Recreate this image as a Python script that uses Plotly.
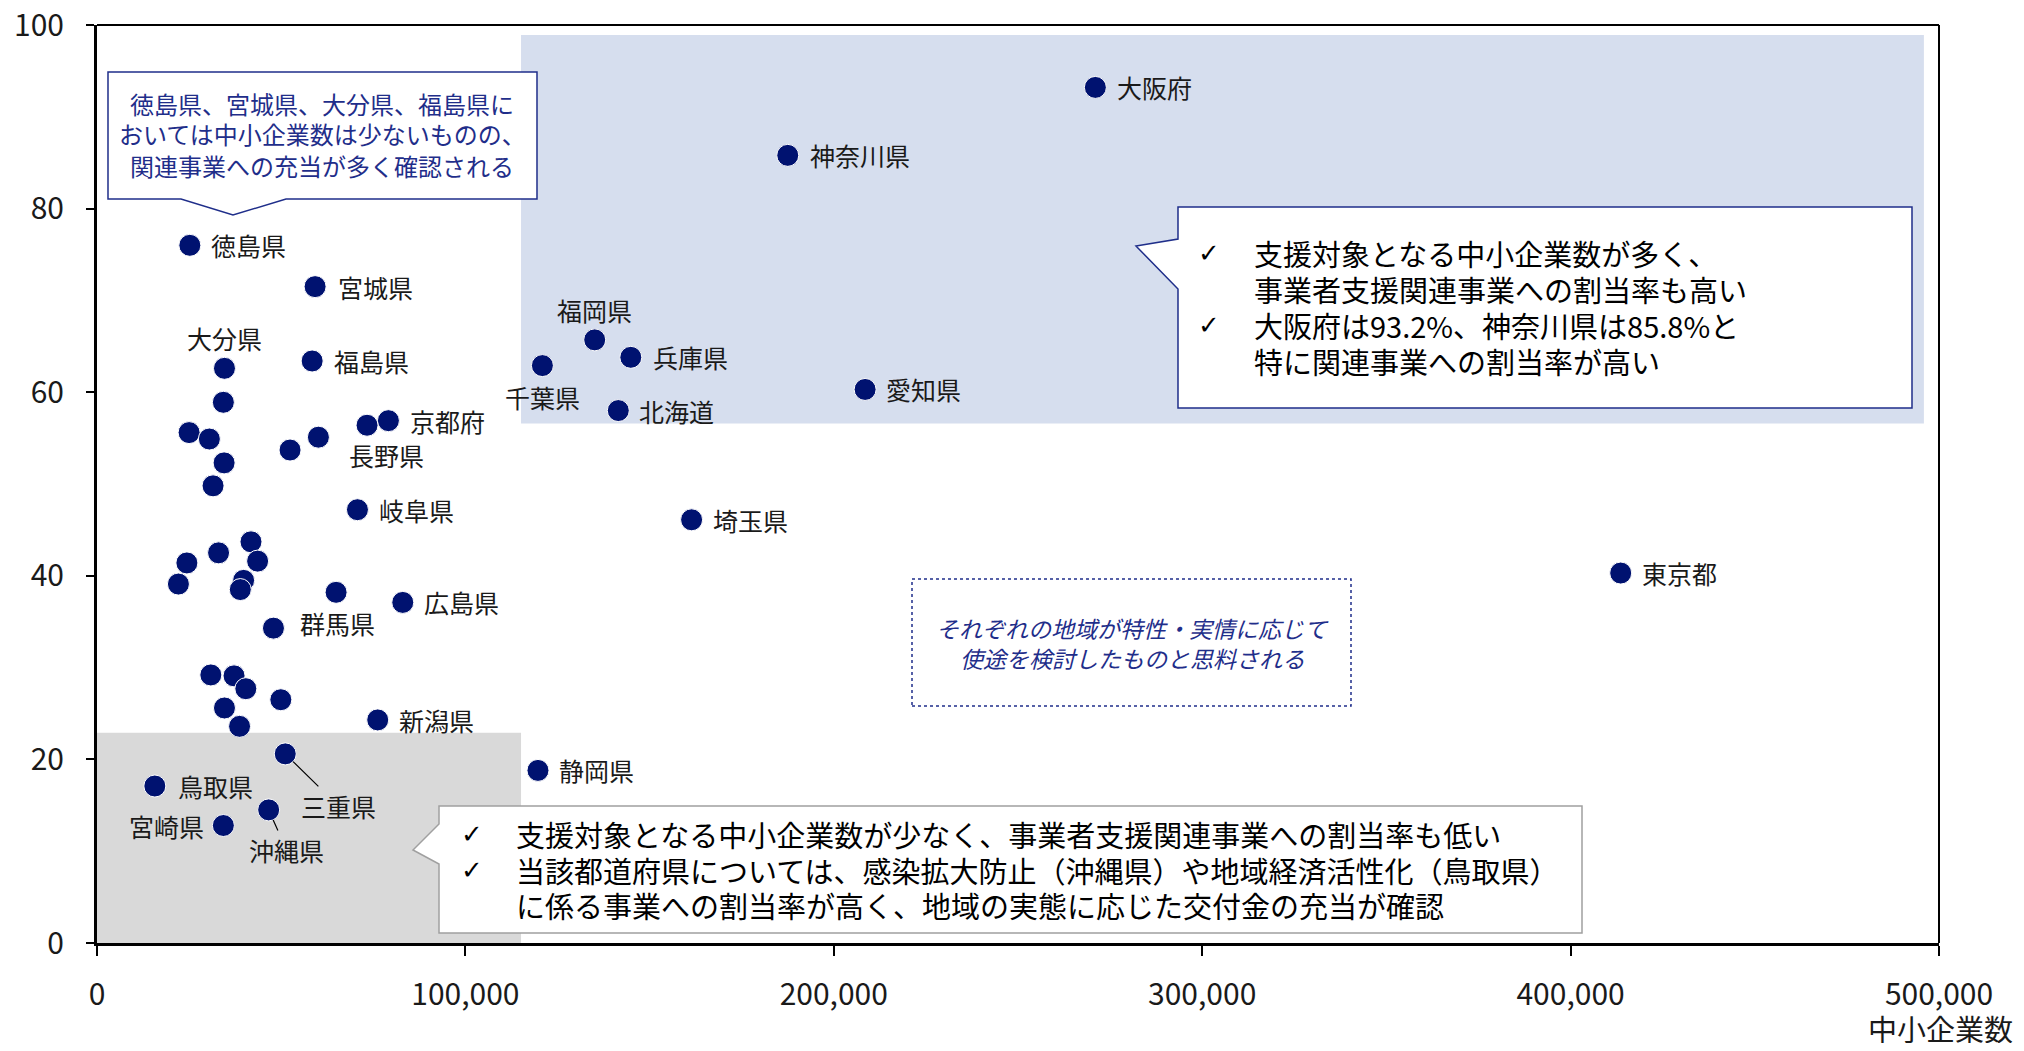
import plotly.graph_objects as go

# ---------------- data ----------------
prefectures = ["大阪府", "神奈川県", "福岡県", "兵庫県", "千葉県", "北海道", "愛知県",
               "徳島県", "宮城県", "大分県", "福島県", "京都府", "長野県",
               "", "", "", "", "", "", "",
               "岐阜県", "埼玉県", "東京都",
               "", "", "", "", "", "", "", "",
               "広島県", "群馬県",
               "", "", "", "", "", "",
               "新潟県", "三重県", "静岡県", "鳥取県", "沖縄県", "宮崎県"]
sme_counts = [271000, 187500, 135100, 144900, 120900, 141500, 208500,
              25200, 59200, 34600, 58400, 79100, 73300,
              60100, 52400, 34300, 25000, 30500, 34500, 31500,
              70700, 161400, 413600,
              41800, 33000, 24400, 43600, 22100, 39800, 38900, 64900,
              83000, 47900,
              30900, 37200, 40400, 49900, 34600, 38700,
              76200, 51100, 119700, 15700, 46600, 34300]
support_share = [93.2, 85.8, 65.7, 63.8, 62.9, 58.0, 60.3,
                 76.0, 71.5, 62.6, 63.4, 56.9, 56.4,
                 55.1, 53.7, 58.9, 55.6, 54.9, 52.3, 49.8,
                 47.2, 46.1, 40.3,
                 43.7, 42.5, 41.4, 41.6, 39.1, 39.5, 38.5, 38.2,
                 37.1, 34.3,
                 29.2, 29.1, 27.7, 26.5, 25.6, 23.6,
                 24.3, 20.6, 18.8, 17.1, 14.5, 12.8]

x_tick_vals = [0, 100000, 200000, 300000, 400000, 500000]
y_tick_vals = [0, 20, 40, 60, 80, 100]
x_title = "中小企業数"

high_zone = dict(x0=115100, x1=495900, y0=56.6, y1=98.9)
low_zone = dict(x0=0, x1=115100, y0=0, y1=22.9)

callout_left_lines = ["徳島県、宮城県、大分県、福島県に",
                      "おいては中小企業数は少ないものの、",
                      "関連事業への充当が多く確認される"]
callout_right_lines = [("✓", "支援対象となる中小企業数が多く、"),
                       ("", "事業者支援関連事業への割当率も高い"),
                       ("✓", "大阪府は93.2%、神奈川県は85.8%と"),
                       ("", "特に関連事業への割当率が高い")]
callout_bottom_lines = [("✓", "支援対象となる中小企業数が少なく、事業者支援関連事業への割当率も低い"),
                        ("✓", "当該都道府県については、感染拡大防止（沖縄県）や地域経済活性化（鳥取県）"),
                        ("", "に係る事業への割当率が高く、地域の実態に応じた交付金の充当が確認")]
middle_lines = ["それぞれの地域が特性・実情に応じて", "使途を検討したものと思料される"]

# label placement: (dx px, dy px (down), anchor, leader line)
label_pos = {
    "大阪府": (20, 0, "left", False), "神奈川県": (20, 0, "left", False),
    "福岡県": (0, -30, "center", False), "兵庫県": (20, 0, "left", False),
    "千葉県": (0, 31, "center", False), "北海道": (19, 0, "left", False),
    "愛知県": (19, 0, "left", False), "徳島県": (19, 0, "left", False),
    "宮城県": (21, 0, "left", False), "大分県": (0, -30, "center", False),
    "福島県": (20, 0, "left", False), "京都府": (20, 0, "left", False),
    "長野県": (19, 30, "center", False), "岐阜県": (20, 0, "left", False),
    "埼玉県": (19, 0, "left", False), "東京都": (19, 0, "left", False),
    "広島県": (19, 0, "left", False), "群馬県": (25, -5, "left", False),
    "新潟県": (19, 0, "left", False), "静岡県": (19, 0, "left", False),
    "鳥取県": (21, 0, "left", False), "宮崎県": (-17, 0, "right", False),
    "三重県": (53, 52, "center", True), "沖縄県": (18, 40, "center", True),
}

# ---------------- layout geometry ----------------
# target plot area on screen: x 97..1939, y 25..943 ; page body has an 8px margin
PAGE_OFF = 8
SX0, SX1, SY0, SY1 = 97, 1939, 25, 943
W, H = 2024 - 2 * PAGE_OFF, 1051 - 2 * PAGE_OFF
L, T = SX0 - PAGE_OFF, SY0 - PAGE_OFF
R = W - (SX1 - PAGE_OFF)
B = H - (SY1 - PAGE_OFF)
PW, PH = SX1 - SX0, SY1 - SY0
FONT = "Noto Sans CJK JP, Noto Sans, sans-serif"
NAVY = "#001270"
BOXNAVY = "#1F2E8A"


def px(X):
    return (X - SX0) / PW


def py(Y):
    return (SY1 - Y) / PH


def path(points):
    return "M " + " L ".join(f"{px(a):.5f},{py(b):.5f}" for a, b in points) + " Z"


fig = go.Figure()
fig.add_trace(go.Scatter(
    x=sme_counts, y=support_share, mode="markers",
    marker=dict(size=22, color=NAVY, line=dict(color="white", width=1)),
    hoverinfo="skip", showlegend=False))

shapes = [
    dict(type="rect", xref="x", yref="y", layer="below", line=dict(width=0),
         fillcolor="#D6DEEE", **high_zone),
    dict(type="rect", xref="x", yref="y", layer="below", line=dict(width=0),
         fillcolor="#D9D9D9", **low_zone),
    dict(type="line", xref="paper", yref="paper", x0=0, x1=1, y0=1, y1=1,
         line=dict(color="black", width=2)),
    dict(type="line", xref="paper", yref="paper", x0=1, x1=1, y0=0, y1=1,
         line=dict(color="black", width=2)),
    dict(type="path", xref="paper", yref="paper", layer="above",
         path=path([(108, 72), (537, 72), (537, 199), (286, 199), (233, 215), (181, 199), (108, 199)]),
         fillcolor="white", line=dict(color=BOXNAVY, width=1.5)),
    dict(type="path", xref="paper", yref="paper", layer="above",
         path=path([(1178, 207), (1912, 207), (1912, 408), (1178, 408), (1178, 289), (1136, 246), (1178, 239)]),
         fillcolor="white", line=dict(color=BOXNAVY, width=1.5)),
    dict(type="path", xref="paper", yref="paper", layer="above",
         path=path([(439, 806), (1582, 806), (1582, 933), (439, 933), (439, 864), (413, 850), (439, 824)]),
         fillcolor="white", line=dict(color="#A0A0A0", width=1.5)),
    dict(type="rect", xref="paper", yref="paper", layer="above",
         x0=px(912), x1=px(1351), y0=py(706), y1=py(579),
         fillcolor="white", line=dict(color=BOXNAVY, width=1.5, dash="dot")),
]

annotations = []
for name, xv, yv in zip(prefectures, sme_counts, support_share):
    if not name:
        continue
    dx, dy, anchor, leader = label_pos[name]
    if leader:
        annotations.append(dict(x=xv, y=yv, xref="x", yref="y", text=name,
                                showarrow=True, ax=dx, ay=dy, arrowhead=0,
                                arrowwidth=1.2, arrowcolor="black", standoff=11,
                                font=dict(size=25, color="#1a1a1a", family=FONT)))
    else:
        annotations.append(dict(x=xv, y=yv, xref="x", yref="y", text=name,
                                showarrow=False, xanchor=anchor, yanchor="middle",
                                xshift=dx, yshift=-dy,
                                font=dict(size=25, color="#1a1a1a", family=FONT)))

for i, line in enumerate(callout_left_lines):
    annotations.append(dict(x=px(322), y=py(103 + 31 * i), xref="paper", yref="paper",
                            text=line, showarrow=False, xanchor="center", yanchor="middle",
                            font=dict(size=24, color=BOXNAVY, family=FONT)))
for i, (mark, line) in enumerate(callout_right_lines):
    yy = py(253 + 36 * i)
    if mark:
        annotations.append(dict(x=px(1209), y=yy, xref="paper", yref="paper", text=mark,
                                showarrow=False, xanchor="center", yanchor="middle",
                                font=dict(size=26, color="black", family="DejaVu Sans")))
    annotations.append(dict(x=px(1252), y=yy, xref="paper", yref="paper", text=line,
                            showarrow=False, xanchor="left", yanchor="middle",
                            font=dict(size=29, color="black", family=FONT)))
for i, (mark, line) in enumerate(callout_bottom_lines):
    yy = py(834 + 35.5 * i)
    if mark:
        annotations.append(dict(x=px(472), y=yy, xref="paper", yref="paper", text=mark,
                                showarrow=False, xanchor="center", yanchor="middle",
                                font=dict(size=26, color="black", family="DejaVu Sans")))
    annotations.append(dict(x=px(514), y=yy, xref="paper", yref="paper", text=line,
                            showarrow=False, xanchor="left", yanchor="middle",
                            font=dict(size=29, color="black", family=FONT)))
for i, line in enumerate(middle_lines):
    annotations.append(dict(x=px(1132), y=py(628 + 30 * i), xref="paper", yref="paper",
                            text=f"<i>{line}</i>", showarrow=False, xanchor="center",
                            yanchor="middle", font=dict(size=23, color=BOXNAVY, family=FONT)))
annotations.append(dict(x=px(2015), y=py(1028), xref="paper", yref="paper", text=x_title,
                        showarrow=False, xanchor="right", yanchor="middle",
                        font=dict(size=29, color="#1a1a1a", family=FONT)))

fig.update_layout(
    width=W, height=H, autosize=False,
    margin=dict(l=L, r=R, t=T, b=B, pad=0),
    paper_bgcolor="white", plot_bgcolor="white",
    font=dict(family=FONT, size=30, color="#1a1a1a"),
    shapes=shapes, annotations=annotations,
    xaxis=dict(range=[0, 500000], tickvals=x_tick_vals, tickformat=",",
               showgrid=False, zeroline=False, showline=True, linecolor="black",
               linewidth=3, ticks="outside", ticklen=10, tickwidth=2, tickcolor="black",
               ticklabelstandoff=13, ticklabeloverflow="allow", automargin=False,
               tickfont=dict(size=30)),
    yaxis=dict(range=[0, 100], tickvals=y_tick_vals, showgrid=False, zeroline=False,
               showline=True, linecolor="black", linewidth=3, ticks="outside",
               ticklen=8, tickwidth=2, tickcolor="black", ticklabelstandoff=16,
               ticklabeloverflow="allow", automargin=False, tickfont=dict(size=30)),
)

fig.write_html("out.html")
